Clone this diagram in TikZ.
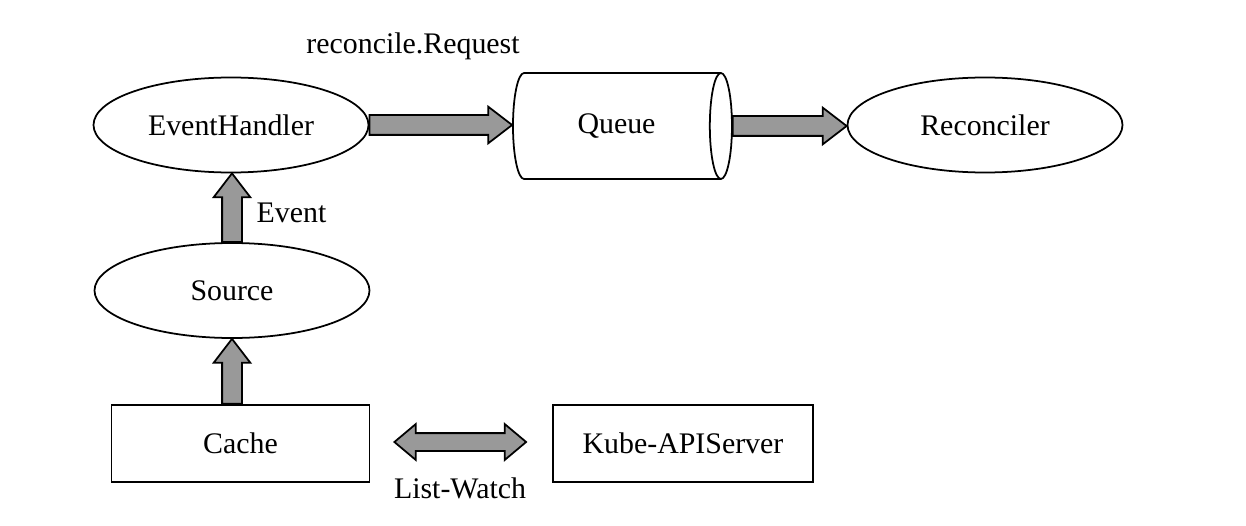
\documentclass[tikz,border=0pt]{standalone}
\usepackage{fontspec}
\setmainfont{Liberation Serif}
\usetikzlibrary{calc,shapes.geometric,shapes.arrows}

\begin{document}
\begin{tikzpicture}[font=\fontsize{17}{20}\selectfont,line width=1pt,
  proc/.style={draw,ellipse,minimum width=5.5cm,minimum height=1.9cm,inner sep=0pt},
  store/.style={draw,rectangle,minimum width=5.16cm,minimum height=1.55cm,inner sep=0pt},
  fatarrow/.style={single arrow,draw,fill=gray!80,inner xsep=0pt,inner ysep=.18cm,
    outer sep=0pt,anchor=tail,minimum width=.7cm,single arrow head extend=.17cm,
    single arrow tip angle=75},
  fatboth/.style={double arrow,draw,fill=gray!80,inner xsep=0pt,inner ysep=.16cm,
    minimum width=.7cm,double arrow head extend=.18cm,double arrow tip angle=80}]
  \useasboundingbox (0,0) rectangle (24.92,10.5);

  \node[proc] (handler) at (4.62,8.0) {EventHandler};
  \node[draw,cylinder,aspect=.9,minimum height=4.38cm,minimum width=2.12cm,
        inner sep=0pt] (queue) at (12.33,7.98) {Queue};
  \node[proc] (reconciler) at (19.7,8.0) {Reconciler};
  \node[proc] (source) at (4.64,4.69) {Source};
  \node[store] (cache) at (4.81,1.63) {Cache};
  \node[store,minimum width=5.2cm] (kube) at (13.66,1.63) {Kube-APIServer};

  \node (request) at (8.26,9.58) {reconcile.Request};
  \node[anchor=west] (eventlbl) at (5.0,6.24) {Event};
  \node (listwatch) at (9.2,.74) {List-Watch};

  \path let \p1=(handler.east), \p2=(queue.west) in
    node[fatarrow,minimum height={\x2-\x1}] (a1) at (\p1) {};
  \path let \p1=(queue.east), \p2=(reconciler.west) in
    node[fatarrow,minimum height={\x2-\x1}] (a2) at (\p1) {};
  \path let \p1=(source.north), \p2=(handler.south) in
    node[fatarrow,rotate=90,minimum height={\y2-\y1}] (a3) at (\p1) {};
  \path let \p1=(cache.north -| source.south), \p2=(source.south) in
    node[fatarrow,rotate=90,minimum height={\y2-\y1}] (a4) at (\p1) {};

  \coordinate (lwl) at ($(cache.east)+(.48,.03)$);
  \coordinate (lwr) at ($(kube.west)+(-.52,.03)$);
  \path let \p1=(lwl), \p2=(lwr) in
    node[fatboth,minimum height={\x2-\x1}] (a5) at ($(\p1)!.5!(\p2)$) {};
\end{tikzpicture}
\end{document}
